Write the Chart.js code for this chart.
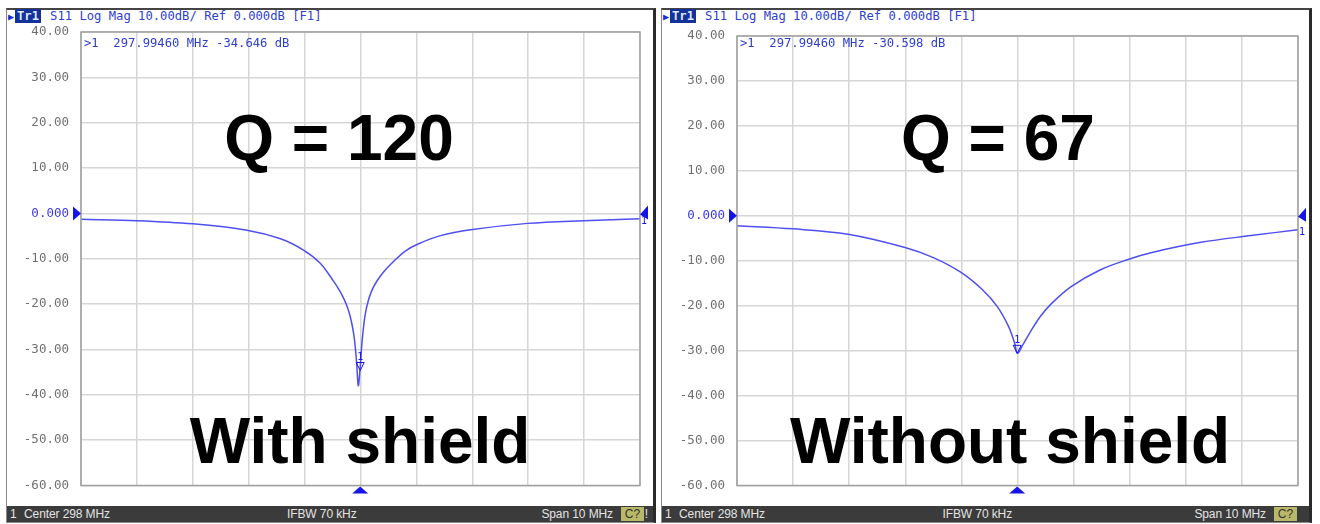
<!DOCTYPE html>
<html>
<head>
<meta charset="utf-8">
<script src="https://cdn.jsdelivr.net/npm/chart.js@4.4.1/dist/chart.umd.min.js"></script>
<style>
    body { margin: 0; width: 1320px; height: 524px; background: #fff; position: relative; overflow: hidden; font-family: 'Liberation Sans', Arial, sans-serif; }
    .panel { position: absolute; top: 8px; height: 515px; box-sizing: border-box; border: 1px solid #8a8a8a; border-top: 2px solid #444; border-right: 3px solid #2a2a2a; background: #fff; }
    .vna-canvas { position: absolute; top: 0; }
    .header { position: absolute; top: 9px; font-family: 'DejaVu Sans Mono', monospace; font-size: 12.2px; color: #2f3fd0; white-space: pre; line-height: 15px; }
    .header .tr { background: #14329a; color: #dfe6ff; padding: 0 2px; margin-right: 9px; font-weight: bold; }
    .header .arrow { color: #1c2fd6; font-size: 10px; margin-right: 1px; }
    .readout { position: absolute; top: 36px; font-family: 'DejaVu Sans Mono', monospace; font-size: 12.2px; color: #2f3fd0; white-space: pre; }
    .status { position: absolute; top: 506px; height: 16px; background: #3b3b3b; color: #e4e4e4; font-size: 12px; line-height: 16px; letter-spacing: -0.1px; }
    .status span { position: absolute; top: 0; }
    .status .cbox { background: #b9b868; color: #333; padding: 0 4px; top: 1px; line-height: 14px; }
    .big { position: absolute; font-weight: bold; font-size: 64px; line-height: 64px; color: #000; white-space: nowrap; transform: translateX(-50%); }
</style>
</head>
<body>
<script>
// swept frequency (MHz) and S11 (dB)
const yTicks = [40, 30, 20, 10, 0, -10, -20, -30, -40, -50, -60]

const shieldFreq = [293.0, 294.0, 295.0, 295.97, 296.57, 296.98, 297.28, 297.52, 297.62, 297.71, 297.78, 297.84, 297.89, 297.93, 297.96, 297.99, 298.03, 298.08, 298.14, 298.21, 298.30, 298.42, 298.55, 298.80, 299.02, 299.43, 299.97, 300.99, 301.99, 303.0]
const shieldDb = [-1.3, -1.6, -2.3, -3.7, -5.6, -8.1, -11.0, -15.0, -16.9, -19.0, -21.2, -24.0, -27.6, -32.8, -38.0, -34.6, -28.0, -22.6, -19.2, -16.8, -14.8, -12.8, -11.1, -8.3, -6.8, -4.9, -3.6, -2.2, -1.6, -1.2]

const bareFreq = [293.0, 294.0, 294.98, 295.98, 296.5, 296.98, 297.38, 297.64, 297.84, 297.95, 298.0, 298.1, 298.23, 298.4, 298.6, 298.95, 299.48, 300.0, 300.38, 301.27, 302.16, 303.0]
const bareDb = [-2.2, -2.9, -4.1, -7.0, -9.3, -12.5, -16.5, -20.2, -24.6, -28.4, -30.6, -28.6, -25.8, -22.5, -19.6, -15.8, -12.0, -9.6, -8.2, -5.9, -4.4, -3.1]

const markerFreq = 297.99460
const shieldMarkerDb = -34.646
const bareMarkerDb = -30.598

const traceBlue = '#4f4ff0'
const markBlue = '#1414e6'

class VnaPanel {
    constructor(cfg) {
        this.cfg = cfg
        this.initRoot()
        this.initHeader()
        this.initChart()
        this.initReadout()
        this.initStatusBar()
        this.initLabels()
    }

    initRoot() {
        this.root = document.createElement('div')
        this.root.classList.add('panel')
        this.root.style.left = this.cfg.left + 'px'
        this.root.style.width = this.cfg.width + 'px'
        document.body.appendChild(this.root)
    }

    initHeader() {
        const h = document.createElement('div')
        h.classList.add('header')
        h.style.left = (this.cfg.left + 2) + 'px'
        h.innerHTML = '<span class="arrow">&#9654;</span><span class="tr">Tr1</span>S11 Log Mag 10.00dB/ Ref 0.000dB [F1]'
        document.body.appendChild(h)
    }

    initReadout() {
        const r = document.createElement('div')
        r.classList.add('readout')
        r.style.left = (this.cfg.left + this.cfg.axisWidth + 3) + 'px'
        r.textContent = `>1  ${markerFreq.toFixed(5)} MHz ${this.cfg.markerDb.toFixed(3)} dB`
        document.body.appendChild(r)
    }

    initStatusBar() {
        const bar = document.createElement('div')
        bar.classList.add('status')
        bar.style.left = (this.cfg.left + 1) + 'px'
        bar.style.width = (this.cfg.width - 4) + 'px'
        const w = this.cfg.width - 4
        bar.innerHTML = `<span style="left:3px">1</span><span style="left:17px">Center 298 MHz</span>` +
            `<span style="left:${w / 2 - 43}px">IFBW 70 kHz</span>` +
            `<span style="right:${this.cfg.spanRight}px">Span 10 MHz</span>` +
            `<span style="right:${this.cfg.spanRight - 31}px;" class="cbox">C?</span>` +
            (this.cfg.bang ? `<span style="right:5px">!</span>` : '')
        document.body.appendChild(bar)
    }

    initLabels() {
        this.cfg.labels.forEach(l => {
            const d = document.createElement('div')
            d.classList.add('big')
            d.style.left = l.x + 'px'
            d.style.top = l.y + 'px'
            d.textContent = l.text
            document.body.appendChild(d)
        })
    }

    initChart() {
        this.canvas = document.createElement('canvas')
        this.canvas.classList.add('vna-canvas')
        this.canvas.width = this.cfg.width
        this.canvas.height = 505
        this.canvas.style.left = this.cfg.left + 'px'
        document.body.appendChild(this.canvas)

        const points = this.cfg.freq.map((f, i) => ({ x: f, y: this.cfg.db[i] }))
        const cfg = this.cfg

        const overlay = {
            id: 'vnaOverlay',
            afterDraw(chart) {
                const ctx = chart.ctx
                const area = chart.chartArea
                const xs = chart.scales.x
                const ys = chart.scales.y
                ctx.save()
                // box around the grid
                ctx.strokeStyle = '#a0a0a0'
                ctx.lineWidth = 1.5
                ctx.strokeRect(area.left, area.top, area.right - area.left, area.bottom - area.top)

                // reference level arrows
                const y0 = ys.getPixelForValue(0)
                ctx.fillStyle = markBlue
                ctx.beginPath()
                ctx.moveTo(area.left - 8, y0 - 7)
                ctx.lineTo(area.left, y0)
                ctx.lineTo(area.left - 8, y0 + 7)
                ctx.closePath()
                ctx.fill()
                ctx.beginPath()
                ctx.moveTo(area.right + 8, y0 - 8)
                ctx.lineTo(area.right, y0 + 1)
                ctx.lineTo(area.right + 8, y0 + 6)
                ctx.closePath()
                ctx.fill()

                // stimulus marker below the grid
                const xm = xs.getPixelForValue(markerFreq)
                ctx.beginPath()
                ctx.moveTo(xm - 8, area.bottom + 8)
                ctx.lineTo(xm, area.bottom + 1)
                ctx.lineTo(xm + 8, area.bottom + 8)
                ctx.closePath()
                ctx.fill()

                // marker 1 on the trace
                const ym = ys.getPixelForValue(cfg.markerDb)
                ctx.strokeStyle = markBlue
                ctx.lineWidth = 1
                ctx.beginPath()
                ctx.moveTo(xm - 4, ym - 8)
                ctx.lineTo(xm + 4, ym - 8)
                ctx.lineTo(xm, ym)
                ctx.closePath()
                ctx.stroke()
                ctx.font = '10px "DejaVu Sans Mono"'
                ctx.textAlign = 'center'
                ctx.textBaseline = 'bottom'
                ctx.fillText('1', xm, ym - 8)

                // trace end label
                const yEnd = ys.getPixelForValue(cfg.db[cfg.db.length - 1])
                ctx.textAlign = 'left'
                ctx.textBaseline = 'middle'
                ctx.fillText('1', area.right + 1, yEnd + 3)
                ctx.restore()
            }
        }

        this.chart = new Chart(this.canvas.getContext('2d'), {
            type: 'line',
            data: {
                datasets: [{
                    data: points,
                    borderColor: traceBlue,
                    borderWidth: 1.5,
                    pointRadius: 0,
                    tension: 0.35,
                    fill: false
                }]
            },
            options: {
                responsive: false,
                animation: false,
                layout: {
                    padding: { top: cfg.top, right: cfg.padRight, bottom: 505 - cfg.bottom, left: 0 }
                },
                plugins: {
                    legend: { display: false },
                    tooltip: { enabled: false }
                },
                scales: {
                    x: {
                        type: 'linear',
                        min: 293,
                        max: 303,
                        ticks: { stepSize: 1, display: false },
                        grid: { color: '#d6d6d6', lineWidth: 1.5, drawTicks: false },
                        border: { display: false },
                        afterFit: scale => { scale.height = 0 }
                    },
                    y: {
                        min: -60,
                        max: 40,
                        afterBuildTicks: scale => { scale.ticks = yTicks.map(v => ({ value: v })) },
                        ticks: {
                            padding: 12,
                            font: { family: 'DejaVu Sans Mono', size: 12.5 },
                            color: ctx => ctx.tick.value === 0 ? '#3a3ae0' : '#707070',
                            callback: v => v === 0 ? '0.000' : v.toFixed(2)
                        },
                        grid: { color: '#d6d6d6', lineWidth: 1.5, drawTicks: false },
                        border: { display: false },
                        afterFit: scale => { scale.width = cfg.axisWidth }
                    }
                }
            },
            plugins: [overlay]
        })
    }
}

new VnaPanel({
    left: 6, width: 650, axisWidth: 75, top: 32, bottom: 492, padRight: 16,
    freq: shieldFreq, db: shieldDb, markerDb: shieldMarkerDb, bang: true, spanRight: 40,
    labels: [
        { text: 'Q = 120', x: 339, y: 106 },
        { text: 'With shield', x: 360, y: 409 }
    ]
})

new VnaPanel({
    left: 661, width: 651, axisWidth: 76, top: 36, bottom: 491, padRight: 14,
    freq: bareFreq, db: bareDb, markerDb: bareMarkerDb, bang: false, spanRight: 43,
    labels: [
        { text: 'Q = 67', x: 998, y: 106 },
        { text: 'Without shield', x: 1010, y: 409 }
    ]
})
</script>
</body>
</html>
